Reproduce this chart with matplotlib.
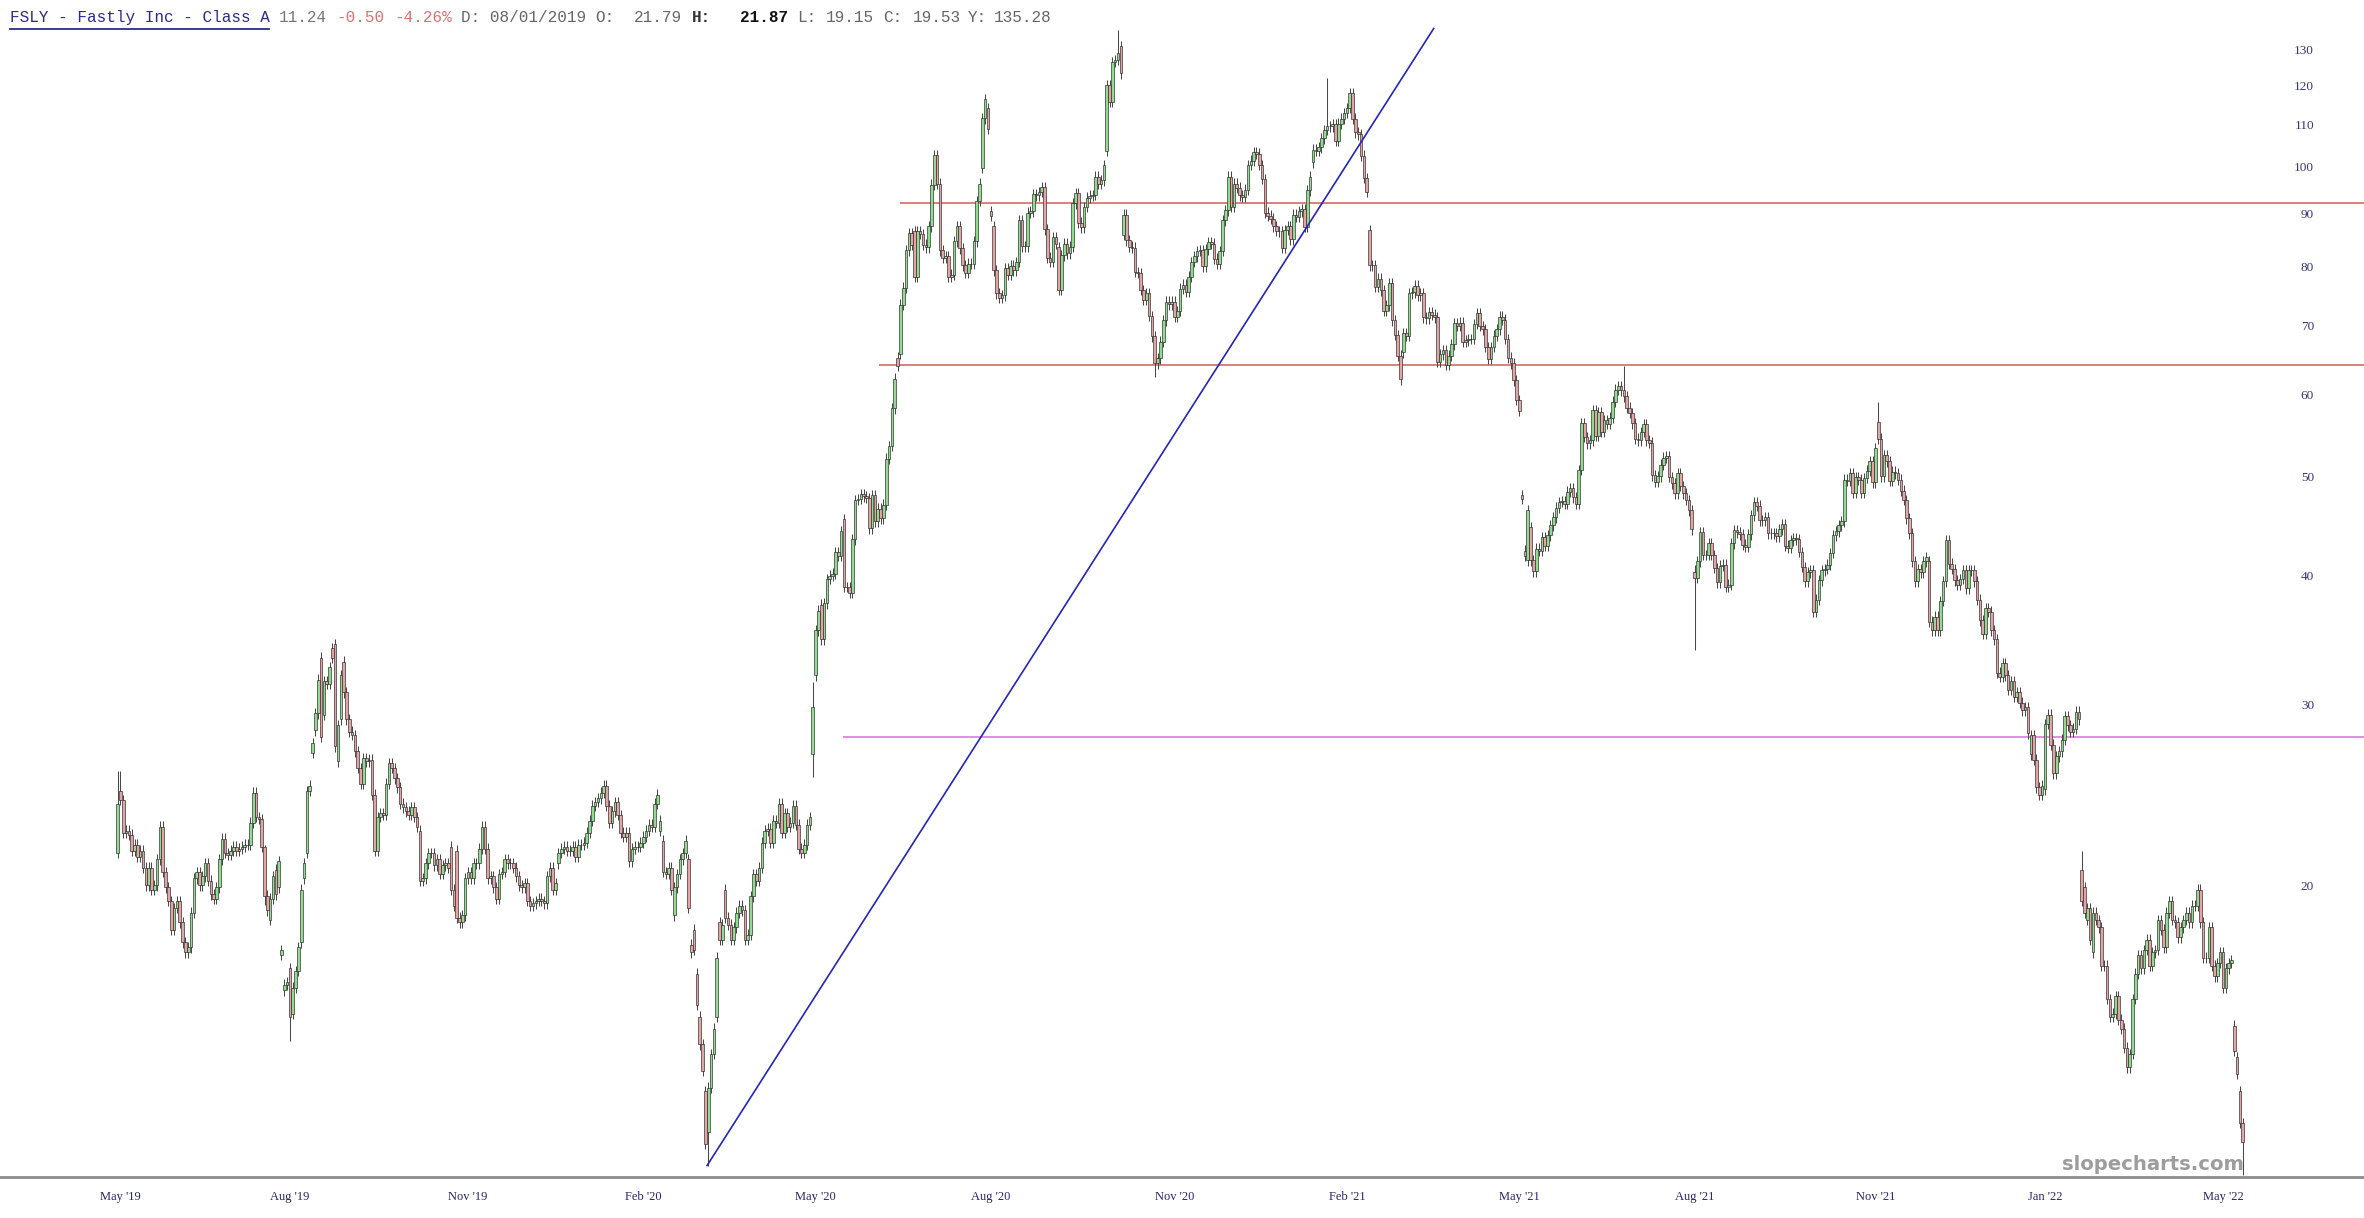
import matplotlib
matplotlib.use("Agg")
import matplotlib.pyplot as plt
import numpy as np

# ---------------- data (daily closes) ----------------
seg_a = [24.0, 24.2, 22.5, 22.6, 22.4, 21.6, 21.9, 21.3, 21.6, 20.8,
         20.0, 20.8, 19.8, 20.0, 21.2, 22.8, 20.6, 19.9, 19.3, 18.1,
         19.0, 19.3, 18.4, 17.6, 17.2, 17.4, 18.8, 20.3, 20.6, 20.0,
         20.4, 21.0, 20.2, 19.6, 19.4, 19.9, 21.2, 22.2, 21.5, 21.4,
         21.6, 21.8, 21.6, 21.7, 21.8, 21.9, 21.9, 23.0, 24.6, 23.3,
         23.2, 21.8, 19.53, 18.9, 19.4, 20.4, 19.6, 21.1, 17.3, 16.0,
         16.1, 14.9, 15.9, 16.5, 17.4, 19.8, 21.0, 24.7, 25.0, 27.5,
         29.4, 31.7, 27.9, 31.6, 31.4, 32.6, 33.3, 27.3, 28.6, 32.0,
         30.8, 29.0, 28.2, 28.0]
seg_b = [27.0, 26.0, 25.1, 26.6, 26.4, 26.5, 24.5, 21.6, 23.3, 23.5,
         23.4, 25.1, 26.3, 26.0, 25.4, 24.9, 24.0, 23.8, 23.6, 23.4,
         23.8, 23.3, 22.8, 20.2, 20.3, 21.0, 21.5, 21.5, 20.9, 21.2,
         20.5, 20.9, 21.0, 20.8, 19.8, 19.1, 18.6, 18.4, 18.7, 20.3,
         20.6, 20.3, 21.0, 21.0, 21.7, 22.8, 21.7, 20.3, 20.4, 19.9,
         19.4, 20.5, 20.6, 21.2, 21.0, 21.0, 20.8, 20.4, 20.0, 19.9,
         20.1, 19.3, 19.1, 19.2, 19.3, 19.4, 19.3, 19.2, 20.4, 20.8,
         19.8, 20.1, 21.5, 21.7, 21.8, 21.6, 21.6, 21.8, 21.3, 21.9,
         21.9, 22.0, 22.5, 23.1, 23.9, 24.1]
seg_c = [24.3, 24.6, 25.0, 23.9, 23.0, 23.6, 24.1, 23.4, 22.5, 22.3,
         22.5, 21.1, 21.7, 21.8, 21.8, 22.0, 22.3, 22.6, 22.9, 22.8,
         24.0, 24.5, 23.1, 20.6, 20.5, 20.8, 19.8, 19.9, 20.5, 21.2,
         21.5, 22.1, 19.0, 17.2, 17.3, 15.3, 14.0, 13.2, 11.2, 12.7,
         13.7, 14.5, 17.0, 17.7, 18.3, 18.6, 18.3, 17.7, 18.2, 18.8,
         19.1, 18.9, 17.7, 17.9, 19.5, 20.5, 20.2, 20.8, 22.0, 22.6,
         22.7, 22.0, 23.1, 23.0, 24.0, 22.5, 23.5, 22.8, 23.0, 23.9,
         22.9, 21.7, 21.5, 21.9, 22.9, 23.3]
seg_d = [29.8, 35.4,
         37.0, 34.7, 37.6, 39.7, 40.0, 40.2, 42.2, 41.8, 44.2, 39.0,
         39.0, 38.5, 43.4, 47.4, 47.5, 48.0, 47.8, 47.6, 44.5, 47.9,
         45.2, 46.5, 45.5, 46.9, 52.0, 53.5, 58.2, 62.2, 64.0, 73.4,
         76.3, 82.9, 86.2, 84.0, 78.2, 86.6, 86.0, 84.0, 83.5, 87.5,
         96.1, 102.6, 96.2, 82.9, 81.5, 81.9, 78.2, 78.5, 84.6, 87.5,
         83.3, 80.2, 78.9, 80.5, 80.5, 84.6, 92.6, 96.3, 111.5, 116.3,
         108.9, 89.6, 79.3, 75.3, 74.6, 75.0, 79.7, 78.5, 80.1, 79.3,
         80.8, 88.7, 83.7, 83.7, 90.2, 90.5, 94.0, 93.8, 94.5, 95.6,
         86.9, 81.6, 80.8, 85.4]
seg_e = [84.2, 75.9, 82.0, 84.2, 82.4, 83.6, 92.1, 94.2, 88.2, 87.3,
         91.4, 93.3, 93.7, 93.9, 97.8, 96.2, 97.0, 100.4, 120.1, 115.7,
         126.5, 127.0, 128.9, 123.3, 89.8, 84.8, 83.6, 83.4, 79.0, 78.8,
         75.9, 74.2, 75.3, 71.6, 68.4, 64.4, 65.1, 67.6, 70.9, 73.9,
         73.5, 73.9, 71.5, 72.4, 76.1, 76.8, 75.6, 78.2, 80.8, 81.8,
         82.8, 82.9, 80.0, 83.1, 84.5, 84.2, 81.4, 80.5, 82.8, 88.7,
         90.7, 97.8, 91.4, 96.3, 95.4, 93.8, 93.5, 95.0, 100.4, 101.4,
         103.4, 103.0, 100.4, 97.3, 90.2, 89.6, 89.0, 87.5, 86.6, 86.5,
         83.4, 86.8, 87.5, 85.0, 89.8]
seg_f = [89.4, 90.5, 91.0, 87.4, 94.9, 97.8, 103.9, 103.6, 104.5, 106.6,
         108.6, 109.5, 109.5, 110.0, 106.0, 110.1, 111.4, 112.8, 114.1, 117.9,
         111.4, 108.0, 107.5, 102.5, 97.5, 94.5, 80.2, 80.2, 76.4, 77.8,
         75.8, 72.4, 73.3, 77.0, 70.9, 68.6, 65.5, 62.1, 68.9, 68.5,
         75.3, 75.5, 76.6, 75.0, 75.3, 71.4, 71.2, 72.2, 71.8, 71.4,
         64.6, 65.7, 66.3, 64.2, 65.5, 67.2, 70.4, 70.0, 70.5, 67.6,
         67.8, 68.0, 68.0, 70.3, 72.0, 70.0, 69.5, 66.8, 65.0, 66.8,
         68.5, 69.5, 71.5, 71.0, 68.0, 65.2, 64.4, 62.0, 59.3, 57.9]
seg_g = [47.5, 41.8, 46.3, 41.4, 40.4, 42.5, 42.3, 43.6, 42.8, 43.8,
         44.8, 45.6, 46.6, 47.2, 47.3, 47.0, 48.3, 48.7, 47.7, 47.0,
         50.7, 56.3, 54.6, 53.8, 54.2, 58.0, 54.7, 57.7, 55.2, 56.7,
         56.2, 57.0, 59.1, 60.7, 61.2, 60.6, 59.8, 58.3, 57.6, 56.3,
         54.4, 54.2, 55.2, 56.2, 54.2, 53.9, 50.1, 49.4, 50.0, 51.3,
         52.1, 52.3, 49.9, 49.2, 48.1, 50.3, 48.9, 48.1, 47.4, 46.3,
         44.4, 39.8, 41.3, 44.1, 41.9, 41.9, 43.0, 41.9, 40.7, 39.4,
         40.9, 41.0, 39.0, 39.2, 43.0, 44.3, 44.1, 43.9, 42.9, 42.7,
         43.9, 45.8, 47.2, 46.8, 45.3]
seg_h = [45.3, 45.6, 44.0, 44.0, 44.0, 43.7, 44.4, 44.9, 42.8, 42.6,
         43.3, 43.5, 43.4, 42.2, 40.8, 39.5, 40.3, 40.5, 36.9, 37.9,
         39.6, 40.5, 40.6, 41.0, 42.1, 43.8, 44.2, 44.8, 45.2, 49.6,
         49.5, 50.3, 48.2, 49.9, 49.6, 48.2, 49.8, 50.6, 51.7, 49.3,
         53.2, 54.4, 50.0, 52.4, 51.7, 49.5, 50.5, 50.3, 49.6, 48.4,
         47.4, 45.5, 44.0, 41.3, 39.5, 40.6, 40.3, 41.3, 41.7, 36.1,
         35.4, 36.5, 35.4, 37.8, 39.5, 43.3, 41.1, 40.6, 39.6, 39.2,
         39.7, 40.5, 38.9, 40.5, 40.5, 39.5, 37.9, 36.2, 35.1, 37.2,
         36.9, 35.4, 34.7, 32.2, 31.9, 32.9]
seg_i = [32.0, 31.0, 31.6, 30.5, 30.8,
         30.1, 29.6, 29.8, 28.1, 28.0, 26.5, 24.9, 24.5, 25.0, 28.7,
         29.3, 27.4, 25.7, 26.7, 27.0, 27.7, 29.2, 28.6, 28.2, 28.4,
         29.5, 29.0]
seg_j = [19.3, 18.8, 19.0, 17.7, 18.8, 18.5, 18.2, 16.7, 16.7, 15.5,
         14.9, 15.0, 15.6, 14.8, 14.5, 13.9, 13.3, 13.7, 15.5, 16.4,
         17.1, 16.6, 17.3, 17.7, 16.7, 17.2, 17.3, 18.5, 18.1, 17.4,
         18.8, 19.3, 18.5, 18.4, 17.8, 18.2, 18.5, 18.8, 18.4, 19.1,
         19.1, 19.8, 18.4, 17.0, 17.0, 18.2, 16.7, 16.3, 16.8, 17.2,
         15.9, 16.6, 16.8, 16.9, 13.8, 13.1, 11.74, 11.24]

closes = seg_a + seg_b + seg_c + seg_d + seg_e + seg_f + seg_g + seg_h + seg_i + seg_j

# opens that differ from the previous close (gaps / visible body starts)
gap_opens = {0: 21.5, 1: 24.7, 52: 21.79, 54: 18.5, 56: 20.7, 57: 19.9, 58: 17.1,
             59: 15.8, 61: 16.6, 62: 15.0, 65: 17.6, 66: 20.3, 67: 21.5, 69: 26.9,
             70: 28.3, 72: 33.3, 73: 29.3, 76: 34.0, 77: 34.3, 78: 26.4, 79: 29.0,
             80: 33.0, 107: 22.6, 118: 21.8, 120: 21.6, 156: 21.0, 192: 22.6,
             193: 22.1, 197: 18.7, 202: 21.2, 203: 17.5, 204: 18.1, 205: 16.4,
             206: 14.9, 208: 12.6, 209: 11.5, 212: 14.9, 213: 18.4, 215: 19.8,
             246: 26.8, 247: 32.0, 249: 37.5, 257: 45.4, 276: 65.2, 277: 65.8,
             282: 86.6, 291: 96.3, 306: 99.8, 308: 114.0, 309: 90.5, 310: 87.5,
             333: 83.5, 350: 103.6, 355: 131.0, 356: 85.9, 423: 101.0, 443: 86.8,
             455: 66.0, 497: 47.9, 498: 42.3, 499: 41.4, 500: 44.6, 558: 40.3,
             623: 56.5, 641: 41.3, 677: 26.8, 682: 24.8, 695: 20.7, 696: 19.9,
             697: 18.5, 698: 19.0, 699: 17.2, 702: 18.2, 749: 14.6, 750: 13.6,
             751: 12.6, 752: 11.74}
wick_highs = {0: 25.8, 1: 25.8, 52: 21.87, 246: 31.5, 354: 136.0, 428: 122.0,
              533: 64.0, 558: 41.0, 623: 59.0, 695: 21.6}
wick_lows = {52: 19.15, 61: 14.1, 209: 10.67, 246: 25.5, 367: 62.5, 558: 33.9,
             752: 10.45}

y_ticks = [20, 30, 40, 50, 60, 70, 80, 90, 100, 110, 120, 130]
x_tick_bars = [1, 61, 124, 186, 247, 309, 374, 435, 496, 558, 622, 682, 745]
x_tick_labels = ["May '19", "Aug '19", "Nov '19", "Feb '20", "May '20", "Aug '20",
                 "Nov '20", "Feb '21", "May '21", "Aug '21", "Nov '21", "Jan '22",
                 "May '22"]
levels = [92.1, 64.1, 27.85]
level_starts = [276.9, 269.4, 256.6]
trend_bars = [208.6, 465.7]
trend_prices = [10.67, 136.3]

# ---------------- style ----------------
UP = "#8fdc8f"
DOWN = "#e6a3a3"
EDGE = "#262626"
WICK = 0.012

N = len(closes)
c = np.array(closes, dtype=float)
o = np.array([gap_opens.get(i, closes[i - 1] if i > 0 else closes[0]) for i in range(N)])
bhi = np.maximum(o, c)
blo = np.minimum(o, c)
hi = np.array([wick_highs.get(i, bhi[i] * (1 + WICK)) for i in range(N)])
lo = np.array([wick_lows.get(i, blo[i] * (1 - WICK)) for i in range(N)])
x = np.arange(N)
up = c >= o

W, H = 2364, 1218
fig = plt.figure(figsize=(W / 100, H / 100), dpi=100)
fig.patch.set_facecolor("white")
ax = fig.add_axes([0, 41 / H, 1, 1177 / H])
ax.set_yscale("log")
ax.set_xlim(-41.6, 794.9)
ax.set_ylim(10.40, 145.3)

ax.vlines(x, lo, hi, color="#484848", linewidth=0.75, zorder=2)
ax.bar(x[up], (bhi - blo)[up], bottom=blo[up], width=0.92, color=UP,
       edgecolor=EDGE, linewidth=0.45, zorder=3)
ax.bar(x[~up], (bhi - blo)[~up], bottom=blo[~up], width=0.92, color=DOWN,
       edgecolor=EDGE, linewidth=0.45, zorder=3)

lvl_colors = ["#d9807c", "#d9807c", "#e68ae6"]
for p, s, col in zip(levels, level_starts, lvl_colors):
    ax.hlines(p, s, 794.9, color=col, linewidth=1.4, zorder=1)
ax.plot(trend_bars, trend_prices, color="#2424c0", linewidth=1.2, zorder=4)

# axes cosmetics
for side in ["top", "left", "right"]:
    ax.spines[side].set_visible(False)
ax.spines["bottom"].set_color("#8c8c8c")
ax.spines["bottom"].set_linewidth(2.0)

ax.yaxis.set_minor_locator(matplotlib.ticker.NullLocator())
ax.yaxis.set_ticks_position("right")
ax.set_yticks(y_ticks)
ax.set_yticklabels([str(t) for t in y_ticks])
ax.tick_params(axis="y", which="both", length=0, pad=-36, labelsize=9.5,
               labelcolor="#35357a")
for lab in ax.get_yticklabels():
    lab.set_horizontalalignment("right")
    lab.set_fontfamily("Liberation Serif")

ax.set_xticks(x_tick_bars)
ax.set_xticklabels(x_tick_labels)
ax.tick_params(axis="x", length=0, pad=10, labelsize=9, labelcolor="#25256e")
for lab in ax.get_xticklabels():
    lab.set_fontfamily("Liberation Serif")

# header line (monospace)
CW = 9.6
X0 = 10
hy = 1 - 22 / H
pieces = [
    (0, "FSLY - Fastly Inc - Class A", "#2b2b8f", "normal"),
    (28, "11.24", "#777777", "normal"),
    (34, "-0.50", "#e07070", "normal"),
    (40, "-4.26%", "#e07070", "normal"),
    (47, "D: 08/01/2019", "#666666", "normal"),
    (61, "O:", "#666666", "normal"),
    (65, "21.79", "#666666", "normal"),
    (71, "H:", "#333333", "bold"),
    (76, "21.87", "#111111", "bold"),
    (82, "L:", "#666666", "normal"),
    (85, "19.15", "#666666", "normal"),
    (91, "C:", "#666666", "normal"),
    (94, "19.53", "#666666", "normal"),
    (99.8, "Y:", "#666666", "normal"),
    (102.5, "135.28", "#666666", "normal"),
]
for col, txt, color, wt in pieces:
    fig.text((X0 + col * CW) / W, hy, txt, color=color, fontsize=11.5,
             fontfamily="Liberation Mono", fontweight=wt, ha="left",
             va="baseline")
fig.add_artist(plt.Line2D([X0 / W, (X0 + 27 * CW) / W], [1 - 29 / H, 1 - 29 / H],
                          color="#2b2b8f", linewidth=1.3))

# watermark
fig.text(2244 / W, 1 - 1170 / H, "slopecharts.com", color="#9d9d9d",
         fontsize=14.1, fontweight="bold", fontfamily="DejaVu Sans",
         ha="right", va="baseline")

fig.savefig("out.png", dpi=100, facecolor="white")
